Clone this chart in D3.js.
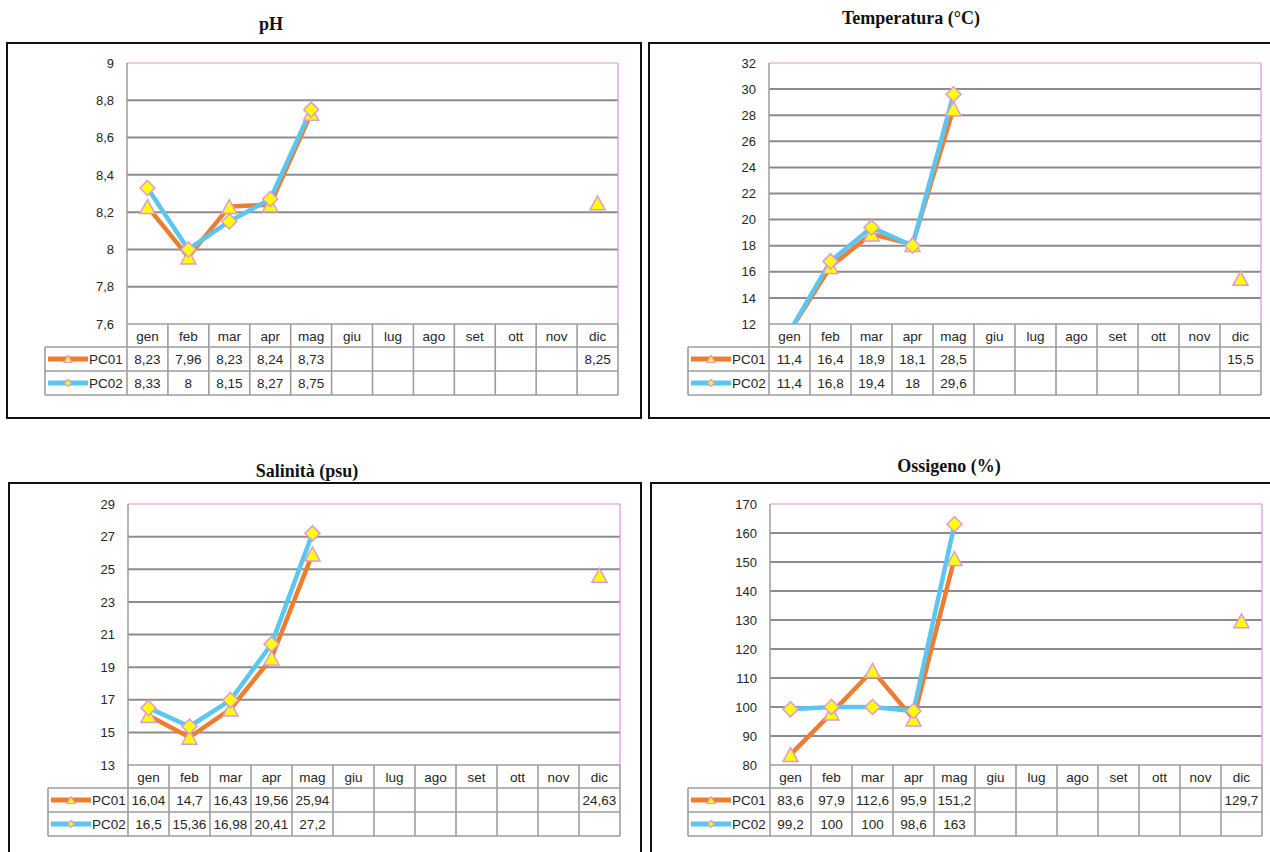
<!DOCTYPE html>
<html>
<head>
<meta charset="utf-8">
<script src="https://cdn.jsdelivr.net/npm/d3@7"></script>
<style>
  html, body { margin: 0; padding: 0; background: #fff; }
  svg { display: block; }
  .tick text { font-family: "Liberation Sans", Arial, sans-serif; font-size: 13px; fill: #262626; }
  .cell { font-family: "Liberation Sans", Arial, sans-serif; font-size: 13.5px; fill: #262626; }
  .title { font-family: "Liberation Serif", "Times New Roman", serif; font-weight: bold; font-size: 18px; fill: #111; }
</style>
</head>
<body>
<svg id="chart" width="1270" height="852"></svg>
<script>
// ---------- DATA ----------
const months = ["gen","feb","mar","apr","mag","giu","lug","ago","set","ott","nov","dic"];
const seriesNames = ["PC01","PC02"];

const phPC01 = [8.23, 7.96, 8.23, 8.24, 8.73, null, null, null, null, null, null, 8.25];
const phPC02 = [8.33, 8, 8.15, 8.27, 8.75, null, null, null, null, null, null, null];
const phTicks = [7.6, 7.8, 8, 8.2, 8.4, 8.6, 8.8, 9];

const tempPC01 = [11.4, 16.4, 18.9, 18.1, 28.5, null, null, null, null, null, null, 15.5];
const tempPC02 = [11.4, 16.8, 19.4, 18, 29.6, null, null, null, null, null, null, null];
const tempTicks = [12, 14, 16, 18, 20, 22, 24, 26, 28, 30, 32];

const salPC01 = [16.04, 14.7, 16.43, 19.56, 25.94, null, null, null, null, null, null, 24.63];
const salPC02 = [16.5, 15.36, 16.98, 20.41, 27.2, null, null, null, null, null, null, null];
const salTicks = [13, 15, 17, 19, 21, 23, 25, 27, 29];

const oxyPC01 = [83.6, 97.9, 112.6, 95.9, 151.2, null, null, null, null, null, null, 129.7];
const oxyPC02 = [99.2, 100, 100, 98.6, 163, null, null, null, null, null, null, null];
const oxyTicks = [80, 90, 100, 110, 120, 130, 140, 150, 160, 170];

const titles = ["pH", "Temperatura (°C)", "Salinità (psu)", "Ossigeno (%)"];

// ---------- LAYOUT ----------
const charts = [
  { title: titles[0], s1: phPC01, s2: phPC02, ticks: phTicks,
    frame: [7, 43, 634, 375], titlePos: [271, 30], plot: { l: 127, r: 618, t: 63, b: 324 }, tableL: 45 },
  { title: titles[1], s1: tempPC01, s2: tempPC02, ticks: tempTicks,
    frame: [649, 43, 640, 375], titlePos: [911, 24], plot: { l: 769, r: 1261, t: 63, b: 324 }, tableL: 688 },
  { title: titles[2], s1: salPC01, s2: salPC02, ticks: salTicks,
    frame: [9, 483, 632, 420], titlePos: [307, 477], plot: { l: 128, r: 620, t: 504, b: 765 }, tableL: 48 },
  { title: titles[3], s1: oxyPC01, s2: oxyPC02, ticks: oxyTicks,
    frame: [651, 483, 640, 420], titlePos: [949, 472], plot: { l: 770, r: 1262, t: 504, b: 765 }, tableL: 688 }
];

const colors = { PC01: "#ED7D31", PC02: "#5BC6F2" };
const markerFill = "#FFFF00", markerStroke = "#DD99DD";
const gridColor = "#8c8c8c", tableColor = "#9d9d9d", plotBorder = "#DD8FDD";

const fmt = v => (v === null || v === undefined) ? "" : String(v).replace(".", ",");

const svg = d3.select("#chart");

function triPath(w, h) { return `M0,${-h/2}L${w/2},${h/2}L${-w/2},${h/2}Z`; }
function diaPath(w, h) { return `M0,${-h/2}L${w/2},0L0,${h/2}L${-w/2},0Z`; }

charts.forEach((c, ci) => {
  const g = svg.append("g");
  const p = c.plot;
  // frame
  g.append("rect").attr("x", c.frame[0]).attr("y", c.frame[1])
    .attr("width", c.frame[2]).attr("height", c.frame[3])
    .attr("fill", "#fff").attr("stroke", "#111").attr("stroke-width", 2);
  // title
  g.append("text").attr("class", "title").attr("x", c.titlePos[0]).attr("y", c.titlePos[1])
    .attr("text-anchor", "middle").text(c.title);

  const x = d3.scaleBand().domain(months).range([p.l, p.r]);
  const y = d3.scaleLinear().domain([c.ticks[0], c.ticks[c.ticks.length - 1]]).range([p.b, p.t]);
  const bw = x.bandwidth();

  // gridlines
  g.append("g").selectAll("line").data(c.ticks.slice(1, -1)).join("line")
    .attr("x1", p.l).attr("x2", p.r).attr("y1", d => y(d)).attr("y2", d => y(d))
    .attr("stroke", gridColor).attr("stroke-width", 2);

  // plot border (top/right pink)
  g.append("line").attr("x1", p.l).attr("x2", p.r).attr("y1", p.t).attr("y2", p.t)
    .attr("stroke", plotBorder).attr("stroke-width", 1.2);
  g.append("line").attr("x1", p.r).attr("x2", p.r).attr("y1", p.t).attr("y2", p.b)
    .attr("stroke", plotBorder).attr("stroke-width", 1.2);
  // left axis line
  g.append("line").attr("x1", p.l).attr("x2", p.l).attr("y1", p.t).attr("y2", p.b)
    .attr("stroke", tableColor).attr("stroke-width", 1.5);

  // y axis labels
  const ax = g.append("g").attr("transform", `translate(${p.l},0)`)
    .call(d3.axisLeft(y).tickValues(c.ticks).tickSize(0).tickPadding(13).tickFormat(fmt));
  ax.select(".domain").remove();
  ax.selectAll("text").attr("font-family", null).attr("font-size", null);

  // ---------- data table ----------
  const hTop = p.b, hBot = p.b + 23, r1Bot = p.b + 47, r2Bot = p.b + 71;
  const tg = g.append("g");
  const hl = (x1, x2, yy) => tg.append("line").attr("x1", x1).attr("x2", x2).attr("y1", yy).attr("y2", yy)
    .attr("stroke", tableColor).attr("stroke-width", 1.6);
  const vl = (xx, y1, y2) => tg.append("line").attr("x1", xx).attr("x2", xx).attr("y1", y1).attr("y2", y2)
    .attr("stroke", tableColor).attr("stroke-width", 1.6);
  hl(p.l, p.r, hTop);
  hl(c.tableL, p.r, hBot);
  hl(c.tableL, p.r, r1Bot);
  hl(c.tableL, p.r, r2Bot);
  vl(c.tableL, hBot, r2Bot);
  months.forEach(m => vl(x(m), hTop, r2Bot));
  vl(p.r, hTop, r2Bot);

  tg.selectAll("text.mon").data(months).join("text").attr("class", "cell mon")
    .attr("x", d => x(d) + bw / 2).attr("y", hTop + 12).attr("dy", "0.35em")
    .attr("text-anchor", "middle").text(d => d);

  [c.s1, c.s2].forEach((s, si) => {
    const yy = si === 0 ? (hBot + r1Bot) / 2 : (r1Bot + r2Bot) / 2;
    tg.selectAll(`text.v${si}`).data(s).join("text").attr("class", `cell v${si}`)
      .attr("x", (d, i) => x(months[i]) + bw / 2).attr("y", yy).attr("dy", "0.35em")
      .attr("text-anchor", "middle").text(d => fmt(d));
    // legend key
    const name = seriesNames[si];
    tg.append("line").attr("x1", c.tableL + 3).attr("x2", c.tableL + 43).attr("y1", yy).attr("y2", yy)
      .attr("stroke", colors[name]).attr("stroke-width", 5);
    tg.append("path").attr("d", si === 0 ? triPath(8, 7) : diaPath(7, 7))
      .attr("transform", `translate(${c.tableL + 23},${yy})`)
      .attr("fill", markerFill).attr("stroke", markerStroke).attr("stroke-width", 1.2);
    tg.append("text").attr("class", "cell").attr("x", c.tableL + 44).attr("y", yy).attr("dy", "0.35em")
      .text(name);
  });

  // ---------- series ----------
  const clipId = `clip${ci}`;
  svg.append("defs").append("clipPath").attr("id", clipId).append("rect")
    .attr("x", p.l - 20).attr("y", p.t - 20).attr("width", p.r - p.l + 40).attr("height", p.b - p.t + 20);
  const sg = g.append("g").attr("clip-path", `url(#${clipId})`);

  const line = d3.line()
    .defined(d => d.v !== null)
    .x(d => x(d.m) + bw / 2).y(d => y(d.v));

  const seriesData = [c.s1, c.s2].map((s, si) => ({
    name: seriesNames[si],
    pts: s.map((v, i) => ({ m: months[i], v }))
  }));

  seriesData.forEach(sd => {
    sg.append("path").datum(sd.pts).attr("d", line)
      .attr("fill", "none").attr("stroke", colors[sd.name]).attr("stroke-width", 4.5)
      .attr("stroke-linejoin", "round");
  });
  seriesData.forEach((sd, si) => {
    sg.selectAll(`path.mk${si}`).data(sd.pts.filter(d => d.v !== null)).join("path")
      .attr("class", `mk${si}`)
      .attr("d", si === 0 ? triPath(15, 14) : diaPath(15, 15))
      .attr("transform", d => `translate(${x(d.m) + bw / 2},${y(d.v)})`)
      .attr("fill", markerFill).attr("stroke", markerStroke).attr("stroke-width", 1.5);
  });
});
</script>
</body>
</html>
